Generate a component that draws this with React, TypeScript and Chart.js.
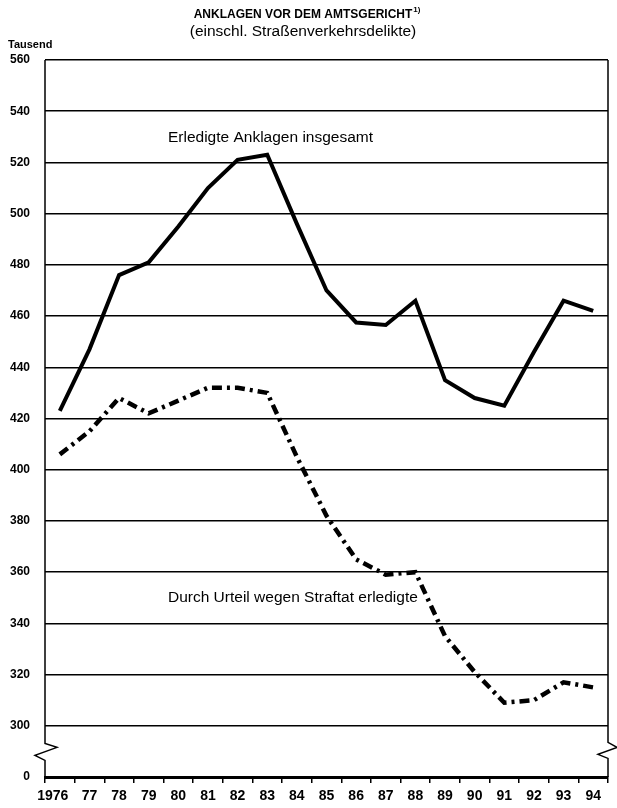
import React, { useEffect, useRef } from 'react';
import { Chart, registerables } from 'chart.js';

Chart.register(...registerables);

const years = ['1976', '77', '78', '79', '80', '81', '82', '83', '84', '85', '86', '87', '88', '89', '90', '91', '92', '93', '94'];
const totalCharges = [423, 447, 476, 481, 495, 510, 521, 523, 496, 470, 457.5, 456.5, 466, 435, 428, 425, 446, 466, 462];
const convictions = [406, 415, 428, 422, 427, 432, 432, 430, 405, 382, 365, 359, 360, 335, 321, 309, 310, 317, 315];

const yMin = 280; // axis break: drawn as 0
const yMax = 560;
const yStep = 20;
const breakLabel = '0';

const titleMain = 'ANKLAGEN VOR DEM AMTSGERICHT';
const titleSup = '1)';
const subtitle = '(einschl. Straßenverkehrsdelikte)';
const unitLabel = 'Tausend';
const labelTotal = 'Erledigte Anklagen insgesamt';
const labelConvictions = 'Durch Urteil wegen Straftat erledigte';

const FONT = '"Liberation Sans", Arial, Helvetica, sans-serif';

const decorPlugin = {
  id: 'decor',
  afterDraw(chart: any) {
    const { ctx, chartArea: ca, scales } = chart;
    const x = scales.x;
    const y = scales.y;
    ctx.save();
    ctx.fillStyle = '#000';
    ctx.strokeStyle = '#000';

    // titles
    const cx = 303;
    ctx.textBaseline = 'middle';
    ctx.textAlign = 'left';
    ctx.font = `bold 12px ${FONT}`;
    const wMain = ctx.measureText(titleMain).width;
    ctx.font = `bold 8px ${FONT}`;
    const wSup = ctx.measureText(titleSup).width;
    const startX = cx - (wMain + wSup) / 2 + wSup / 2;
    ctx.font = `bold 12px ${FONT}`;
    ctx.fillText(titleMain, startX, 15);
    ctx.font = `bold 8px ${FONT}`;
    ctx.fillText(titleSup, startX + wMain + 1, 10);
    ctx.font = `15.5px ${FONT}`;
    ctx.textAlign = 'center';
    ctx.fillText(subtitle, cx, 32);

    // unit label
    ctx.textAlign = 'left';
    ctx.font = `bold 11px ${FONT}`;
    ctx.fillText(unitLabel, 8, 45);

    // series labels
    ctx.font = `15.5px ${FONT}`;
    ctx.fillText(labelTotal, x.getPixelForValue(3.65), y.getPixelForValue(529.5));
    ctx.fillText(labelConvictions, x.getPixelForValue(3.65), y.getPixelForValue(350));

    // side borders with break zigzags
    const p300 = y.getPixelForValue(yMin + yStep);
    const p0 = y.getPixelForValue(yMin);
    const mid = (p300 + p0) / 2;
    ctx.lineWidth = 1.5;
    ctx.lineJoin = 'miter';
    const L = ca.left;
    ctx.beginPath();
    ctx.moveTo(L, ca.top);
    ctx.lineTo(L, mid - 8);
    ctx.lineTo(L + 12, mid - 4);
    ctx.lineTo(L - 10, mid + 4);
    ctx.lineTo(L, mid + 9);
    ctx.lineTo(L, ca.bottom);
    ctx.stroke();
    const R = ca.right;
    ctx.beginPath();
    ctx.moveTo(R, ca.top);
    ctx.lineTo(R, mid - 9);
    ctx.lineTo(R + 9, mid - 4);
    ctx.lineTo(R - 10, mid + 3);
    ctx.lineTo(R, mid + 7);
    ctx.lineTo(R, ca.bottom);
    ctx.stroke();
    ctx.restore();
  },
};

export default function App() {
  const ref = useRef<HTMLCanvasElement | null>(null);

  useEffect(() => {
    if (!ref.current) return;
    const chart = new Chart(ref.current, {
      type: 'line',
      data: {
        labels: years,
        datasets: [
          {
            data: totalCharges,
            borderColor: '#000',
            borderWidth: 4,
            pointRadius: 0,
            tension: 0,
            fill: false,
          },
          {
            data: convictions,
            borderColor: '#000',
            borderWidth: 4.5,
            borderDash: [10, 5, 3, 5],
            pointRadius: 0,
            tension: 0,
            fill: false,
          },
        ],
      },
      options: {
        animation: false,
        responsive: false,
        devicePixelRatio: 1,
        layout: { padding: { top: 60, right: 9, left: 0, bottom: 0 } },
        plugins: { legend: { display: false }, tooltip: { enabled: false }, title: { display: false } },
        scales: {
          x: {
            type: 'category',
            offset: true,
            afterFit(s: any) { s.height = 31; },
            border: { display: true, width: 3, color: '#000' },
            grid: { offset: true, drawOnChartArea: false, drawTicks: true, tickLength: 6, color: '#000', lineWidth: 1.5 },
            ticks: {
              padding: 5,
              color: '#000',
              maxRotation: 0,
              autoSkip: false,
              font: { family: FONT, size: 14, weight: 'bold' },
              callback: (_v: any, i: number) => (i === 0 ? years[i] + '\u2002\u2002' : years[i]),
            },
          },
          y: {
            min: yMin,
            max: yMax,
            afterFit(s: any) { s.width = 45; },
            border: { display: false },
            grid: {
              drawTicks: false,
              lineWidth: 1.5,
              color: (c: any) => (c.tick && c.tick.value === yMin ? 'rgba(0,0,0,0)' : '#000'),
            },
            ticks: {
              stepSize: yStep,
              padding: 15,
              color: '#000',
              font: { family: FONT, size: 12, weight: 'bold' },
              callback: (v: any) => (v === yMin ? breakLabel : String(v)),
            },
          },
        },
      },
      plugins: [decorPlugin],
    } as any);
    return () => chart.destroy();
  }, []);

  return (
    <canvas
      ref={ref}
      width={617}
      height={808}
      style={{ position: 'fixed', left: 0, top: 0, display: 'block', background: '#fff' }}
    />
  );
}
